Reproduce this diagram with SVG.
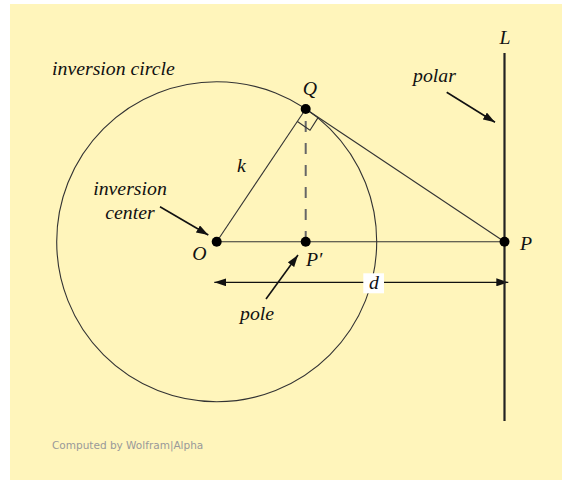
<svg xmlns="http://www.w3.org/2000/svg" width="562" height="480" viewBox="0 0 562 480">
<style>
.lbl{font-family:"Liberation Serif","Times New Roman",serif;font-style:italic;font-size:19.8px;fill:#111}
.thin{stroke:#333;stroke-width:1.1;fill:none}
.arr{stroke:#111;stroke-width:1.6;fill:none}
.dot{fill:#000}
</style>
<defs>
<marker id="ah" viewBox="0 0 12 8" refX="12" refY="4" markerWidth="12" markerHeight="8" markerUnits="userSpaceOnUse" orient="auto-start-reverse">
<path d="M0,0 L12,4 L0,8 Z" fill="#111"/>
</marker>
</defs>
<rect x="10" y="4" width="552" height="476" fill="#fff5bb"/>
<g id="circle">
<circle cx="216.7" cy="241.7" r="160" class="thin"/>
<text class="lbl" x="52" y="75">inversion circle</text>
</g>
<g id="connectors">
<line x1="216.7" y1="241.7" x2="305.7" y2="109" class="thin"/>
<line x1="305.7" y1="109" x2="504.5" y2="241.7" class="thin"/>
<line x1="216.7" y1="241.7" x2="504.5" y2="241.7" class="thin"/>
<line x1="305.7" y1="109" x2="305.7" y2="241.7" stroke="#666" stroke-width="2" stroke-dasharray="11,11" stroke-dashoffset="-12"/>
<path d="M297.4,121.5 L310,130.2 L318.2,117.4" class="thin"/>
<line x1="446.7" y1="92.3" x2="495" y2="122.3" class="arr" marker-end="url(#ah)"/>
<line x1="160" y1="206.7" x2="208.3" y2="235" class="arr" marker-end="url(#ah)"/>
<line x1="266" y1="299" x2="298" y2="255" class="arr" marker-end="url(#ah)"/>
<line x1="214.3" y1="282.3" x2="508.3" y2="282.3" stroke="#111" stroke-width="1.3" marker-start="url(#ah)" marker-end="url(#ah)"/>
</g>
<g id="L">
<line x1="504.5" y1="53" x2="504.5" y2="421" stroke="#222" stroke-width="2.2"/>
<text class="lbl" x="505" y="44" text-anchor="middle">L</text>
<text class="lbl" x="413" y="82">polar</text>
</g>
<g id="Q">
<circle cx="305.7" cy="109" r="5" class="dot"/>
<text class="lbl" x="310" y="95" text-anchor="middle">Q</text>
<text class="lbl" x="237" y="172">k</text>
</g>
<g id="O">
<circle cx="216.7" cy="241.7" r="5" class="dot"/>
<text class="lbl" x="199.5" y="260" text-anchor="middle">O</text>
<text class="lbl" x="130" y="195" text-anchor="middle">inversion</text>
<text class="lbl" x="130" y="219" text-anchor="middle">center</text>
</g>
<g id="Pprime">
<circle cx="305.7" cy="241.7" r="5" class="dot"/>
<text class="lbl" x="306" y="266">P′</text>
<text class="lbl" x="240" y="320">pole</text>
</g>
<g id="P">
<circle cx="504.5" cy="241.7" r="5" class="dot"/>
<text class="lbl" x="520" y="250">P</text>
</g>
<g id="d">
<rect x="363.3" y="273.3" width="20.7" height="20" fill="#fff"/>
<text class="lbl" x="374" y="289" text-anchor="middle">d</text>
</g>
<text x="52" y="449" font-family="DejaVu Sans, sans-serif" font-size="10.5" fill="#999">Computed by Wolfram|Alpha</text>
</svg>
